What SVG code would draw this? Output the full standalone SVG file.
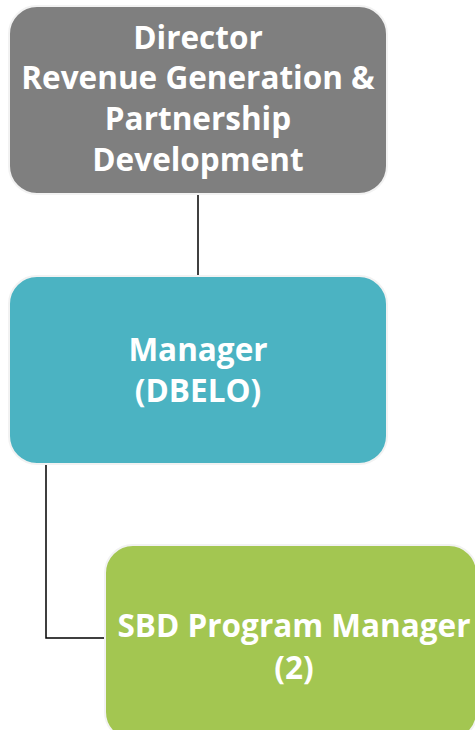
<svg xmlns="http://www.w3.org/2000/svg" width="475" height="730" viewBox="0 0 475 730">
<style>
.box{stroke:#f2f2f2;stroke-width:2}
.t{font-family:"Open Sans","Liberation Sans",sans-serif;font-weight:700;fill:#ffffff;text-anchor:middle}
.c{stroke:#000;stroke-width:1.5;fill:none}
</style>
<rect width="475" height="730" fill="#ffffff"/>
<g id="connectors">
<line class="c" x1="198" y1="194" x2="198" y2="276"/>
<polyline class="c" points="46,463 46,638 106,638"/>
</g>
<g id="director">
<rect class="box" x="9" y="6" width="378" height="188" rx="28" fill="#7f7f7f"/>
<text class="t" font-size="31.5"><tspan x="198" y="49">Director</tspan><tspan x="198" y="89">Revenue Generation &amp;</tspan><tspan x="198" y="130">Partnership</tspan><tspan x="198" y="171">Development</tspan></text>
</g>
<g id="manager">
<rect class="box" x="9" y="276" width="378" height="188" rx="28" fill="#4bb3c2"/>
<text class="t" font-size="31.5"><tspan x="198" y="361">Manager</tspan><tspan x="198" y="402">(DBELO)</tspan></text>
</g>
<g id="sbd">
<rect class="box" x="105" y="545" width="372" height="195" rx="28" fill="#a3c651"/>
<text class="t" font-size="31.5"><tspan x="294" y="637">SBD Program Manager</tspan><tspan x="294" y="679">(2)</tspan></text>
</g>
</svg>
